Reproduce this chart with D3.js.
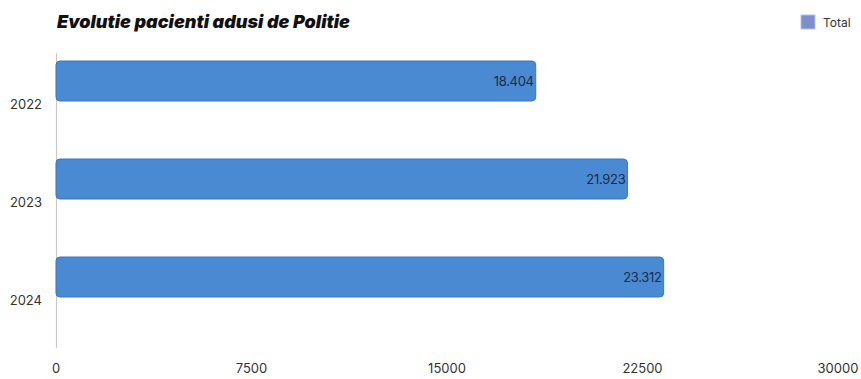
<!DOCTYPE html>
<html><head><meta charset="utf-8">
<script src="https://cdn.jsdelivr.net/npm/d3@7"></script>
<style>body{margin:0;background:#fff;}svg{display:block;}</style>
</head><body>
<script>
const categories = ["2022", "2023", "2024"];
const values = [18404, 21923, 23312];
const valueLabels = ["18.404", "21.923", "23.312"];
const xTicks = [0, 7500, 15000, 22500, 30000];
const title = "Evolutie pacienti adusi de Politie";
const legendLabel = "Total";

const W = 861, H = 379;
const svg = d3.select("body").append("svg").attr("width", W).attr("height", H);
const x = d3.scaleLinear().domain([0, 30000]).range([56, 838]);
const y = d3.scaleBand().domain(categories).range([54, 348]);

// axis line
svg.append("line").attr("x1", 56.5).attr("x2", 56.5).attr("y1", 53).attr("y2", 348)
  .attr("stroke", "#c8c8c8").attr("stroke-width", 1.2);

// bars
const barH = 40;
svg.selectAll("rect.bar").data(values).enter().append("rect")
  .attr("class", "bar")
  .attr("x", x(0)).attr("y", (d, i) => y(categories[i]) + 7)
  .attr("width", d => x(d) - x(0)).attr("height", barH)
  .attr("rx", 4).attr("fill", "#4a8ad2").attr("stroke", "#3b77bd").attr("stroke-width", 1);

svg.selectAll("text.val").data(values).enter().append("text")
  .attr("x", d => x(d) - 2).attr("y", (d, i) => y(categories[i]) + 7 + barH / 2 + 5)
  .attr("text-anchor", "end").attr("font-family", "Inter, sans-serif").attr("font-size", 13)
  .attr("letter-spacing", -0.3)
  .attr("fill", "#1d2b45").text((d, i) => valueLabels[i]);

// category labels
svg.selectAll("text.cat").data(categories).enter().append("text")
  .attr("x", 42).attr("y", d => y(d) + y.bandwidth() / 2 + 6)
  .attr("text-anchor", "end").attr("font-family", "Inter, sans-serif").attr("font-size", 13)
  .attr("fill", "#333").text(d => d);

// x tick labels
svg.selectAll("text.xt").data(xTicks).enter().append("text")
  .attr("x", d => x(d)).attr("y", 373)
  .attr("text-anchor", "middle").attr("font-family", "Inter, sans-serif").attr("font-size", 13)
  .attr("fill", "#333").text(d => d);

// title
svg.append("text").attr("x", 57).attr("y", 28).attr("font-family", "Inter, sans-serif")
  .attr("font-size", 18).attr("font-weight", 900).attr("font-style", "italic")
  .attr("fill", "#111").text(title);

// legend
svg.append("rect").attr("x", 801).attr("y", 15).attr("width", 14).attr("height", 14)
  .attr("fill", "#7a8fcb").attr("stroke", "#b9c4e4").attr("stroke-width", 1);
svg.append("text").attr("x", 823).attr("y", 27).attr("font-family", "Inter, sans-serif")
  .attr("font-size", 12).attr("fill", "#333").text(legendLabel);
</script>
</body></html>
